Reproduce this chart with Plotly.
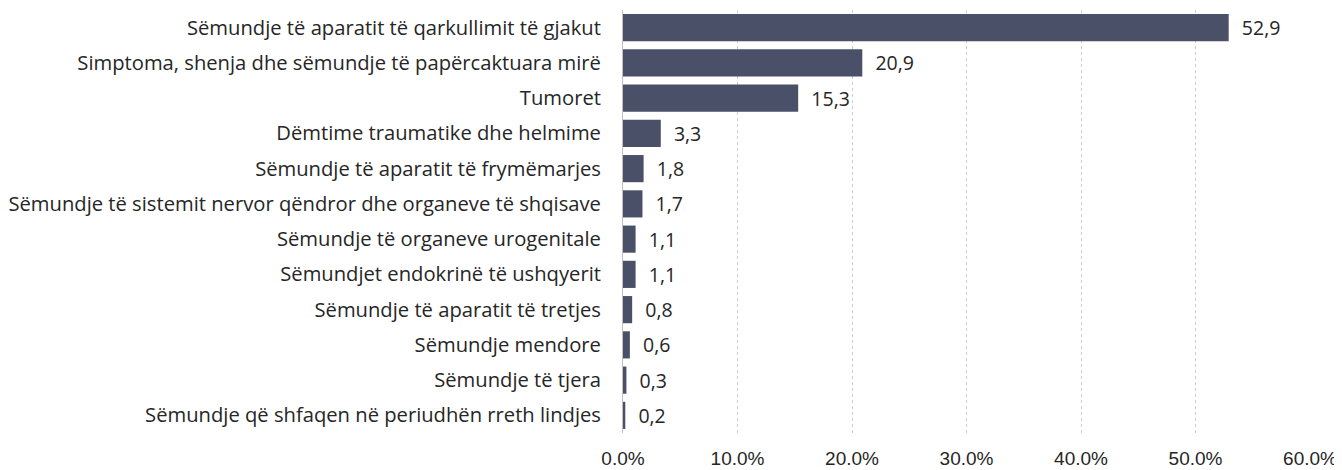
import plotly.graph_objects as go

categories = [
    "Sëmundje të aparatit të qarkullimit të gjakut",
    "Simptoma, shenja dhe sëmundje të papërcaktuara mirë",
    "Tumoret",
    "Dëmtime traumatike dhe helmime",
    "Sëmundje të aparatit të frymëmarjes",
    "Sëmundje të sistemit nervor qëndror dhe organeve të shqisave",
    "Sëmundje të organeve urogenitale",
    "Sëmundjet endokrinë të ushqyerit",
    "Sëmundje të aparatit të tretjes",
    "Sëmundje mendore",
    "Sëmundje të tjera",
    "Sëmundje që shfaqen në periudhën rreth lindjes",
]
values = [52.9, 20.9, 15.3, 3.3, 1.8, 1.7, 1.1, 1.1, 0.8, 0.6, 0.3, 0.2]
tick_vals = [0, 10, 20, 30, 40, 50, 60]
tick_text = ["0.0%", "10.0%", "20.0%", "30.0%", "40.0%", "50.0%", "60.0%"]

labels = ["  " + f"{v:.1f}".replace(".", ",") for v in values]

FONT = "Open Sans, Noto Sans, sans-serif"

fig = go.Figure(go.Bar(
    x=values,
    y=categories,
    orientation="h",
    marker=dict(color="#4a5068", line=dict(width=0)),
    text=labels,
    textposition="outside",
    textfont=dict(family=FONT, size=19.5, color="#262626"),
    cliponaxis=False,
    hoverinfo="skip",
))

fig.update_layout(
    width=1334,
    height=462,
    margin=dict(l=615, r=32, t=2, b=37),
    paper_bgcolor="white",
    plot_bgcolor="white",
    bargap=0.23,
    showlegend=False,
    font=dict(family=FONT, size=19, color="#262626"),
)
fig.update_yaxes(
    autorange="reversed",
    automargin=False,
    showline=True,
    linecolor="#bfbfbf",
    linewidth=1,
    showgrid=False,
    ticks="",
    ticklabelstandoff=17,
    tickfont=dict(family=FONT, size=20.2, color="#262626"),
)
fig.update_xaxes(
    range=[0, 60],
    automargin=False,
    tickvals=tick_vals,
    ticktext=tick_text,
    showgrid=True,
    gridcolor="#cccccc",
    griddash="dot",
    gridwidth=1,
    zeroline=False,
    ticks="",
    ticklabelstandoff=12,
    tickfont=dict(family="Liberation Sans, Arial, sans-serif", size=19, color="#262626"),
)

fig.write_html("out.html")
